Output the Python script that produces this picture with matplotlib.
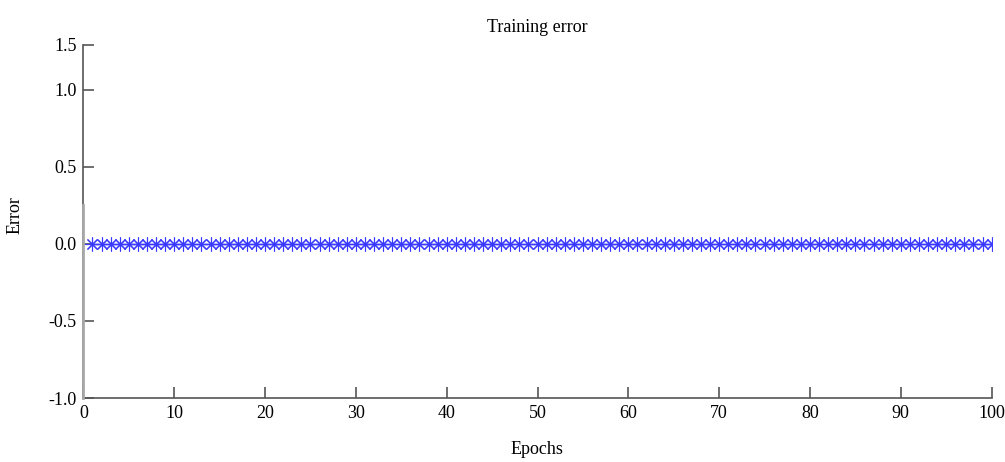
import matplotlib.pyplot as plt
import numpy as np

plt.rcParams['font.family'] = ['Liberation Serif', 'DejaVu Serif']

epochs = np.arange(1, 101)
error = np.zeros(100)

# ticks on the y axis (top label sits lower than its value in the original)
ytick_pos = [-1.0, -0.5, 0.0, 0.5, 1.0, 1.29]
ytick_lab = ['-1.0', '-0.5', '0.0', '0.5', '1.0', '1.5']
xticks = np.arange(0, 101, 10)

fig = plt.figure(figsize=(10.05, 4.62), dpi=100)
ax = fig.add_axes([0.083, 0.1385, 0.9037, 0.7641])

ax.plot(epochs, error, color='blue', lw=1.0, marker=(8, 2, 0), markersize=10,
        markeredgewidth=0.8, markeredgecolor='#3a3aff', zorder=3)

ax.set_xlim(0, 100)
ax.set_ylim(-1.0, 1.29)
ax.set_xticks(xticks)
ax.set_yticks(ytick_pos)
ax.set_yticklabels(ytick_lab)

for s in ['top', 'right']:
    ax.spines[s].set_visible(False)
for s in ['left', 'bottom']:
    ax.spines[s].set_color('#555555')
    ax.spines[s].set_linewidth(1.2)
ax.tick_params(direction='in', length=8, width=1.2, color='#555555',
               labelsize=13, pad=5)

# light grey segment over the lower part of the y axis
ax.plot([0, 0], [-1.0, 0.25], color='#a8a8a8', lw=2.0, zorder=5, clip_on=False)

fig.text(537 / 1005, 1 - 27 / 462, 'Training error', ha='center', va='center', fontsize=13)
fig.text(537 / 1005, 1 - 449 / 462, 'Epochs', ha='center', va='center', fontsize=13)
fig.text(15 / 1005, 1 - 215 / 462, 'Error', ha='center', va='center', rotation=90, fontsize=13)

plt.savefig('out.png', dpi=100)
